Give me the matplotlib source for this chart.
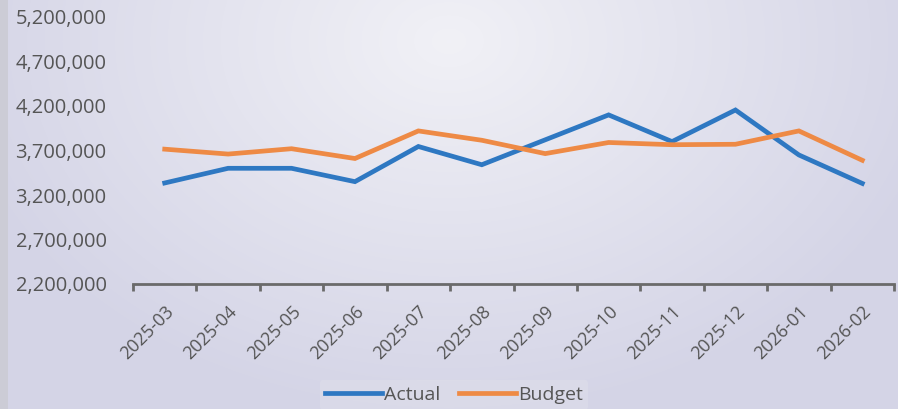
import numpy as np
import matplotlib.pyplot as plt
from matplotlib.ticker import FuncFormatter

months = ["2025-03", "2025-04", "2025-05", "2025-06", "2025-07", "2025-08",
          "2025-09", "2025-10", "2025-11", "2025-12", "2026-01", "2026-02"]
actual = [3335000, 3500000, 3500000, 3350000, 3745000, 3540000,
          3820000, 4100000, 3800000, 4155000, 3650000, 3330000]
budget = [3715000, 3660000, 3720000, 3610000, 3920000, 3815000,
          3665000, 3790000, 3765000, 3770000, 3920000, 3590000]
yticks = [2200000, 2700000, 3200000, 3700000, 4200000, 4700000, 5200000]

plt.rcParams['font.family'] = ['Open Sans', 'DejaVu Sans']
text_col = '#555555'

fig = plt.figure(figsize=(8.98, 4.09), dpi=100)

# scanned-paper style background: lavender with a lighter patch near the top
bg = fig.add_axes([0, 0, 1, 1], zorder=-5)
yy, xx = np.mgrid[0:1:409j, 0:1:898j]
d = np.sqrt(((xx - 0.5) / 0.55) ** 2 + ((yy - 0.1) / 0.9) ** 2)
w = np.clip(1 - d, 0, 1)
c_out = np.array([0.835, 0.835, 0.905])
c_in = np.array([0.945, 0.945, 0.965])
img = c_out + (c_in - c_out) * w[..., None]
img[:, :8] = [0.80, 0.80, 0.84]
bg.imshow(img, aspect='auto', extent=[0, 1, 0, 1])
bg.axis('off')

ax = fig.add_axes([133 / 898, 125 / 409, 761 / 898, 267 / 409])
ax.set_facecolor('none')
x = np.arange(len(months))
ax.plot(x, actual, color='#2e78c2', lw=3.4, label='Actual', solid_joinstyle='miter')
ax.plot(x, budget, color='#ee8a45', lw=3.4, label='Budget', solid_joinstyle='miter')

ax.set_xlim(-0.5, len(months) - 0.5)
ax.set_ylim(2200000, 5200000)
ax.set_yticks(yticks)
ax.yaxis.set_major_formatter(FuncFormatter(lambda v, p: f"{int(v):,}"))
ax.tick_params(axis='y', length=0, pad=19, labelsize=14.5, labelcolor=text_col)

ax.set_xticks(x)
ax.set_xticklabels(months, rotation=45, ha='right', va='top', rotation_mode='anchor')
ax.set_xticks(np.arange(-0.5, len(months)), minor=True)
ax.tick_params(axis='x', which='major', length=0, pad=13, labelsize=13, labelcolor=text_col)
ax.tick_params(axis='x', which='minor', length=5, width=2, color='#6a6a6a', direction='out')

for s in ['top', 'right', 'left']:
    ax.spines[s].set_visible(False)
ax.spines['bottom'].set_color('#6a6a6a')
ax.spines['bottom'].set_linewidth(2)

leg = fig.legend(loc='center', bbox_to_anchor=(454 / 898, 1 - 395 / 409), ncol=2,
                 frameon=True, fontsize=14, handlelength=2.9, handletextpad=0.1,
                 columnspacing=1.0, borderpad=0.3)
leg.get_frame().set_facecolor('#dedeea')
leg.get_frame().set_edgecolor('none')
leg.get_frame().set_alpha(0.6)
for t in leg.get_texts():
    t.set_color(text_col)

fig.savefig('out.png', dpi=100)
